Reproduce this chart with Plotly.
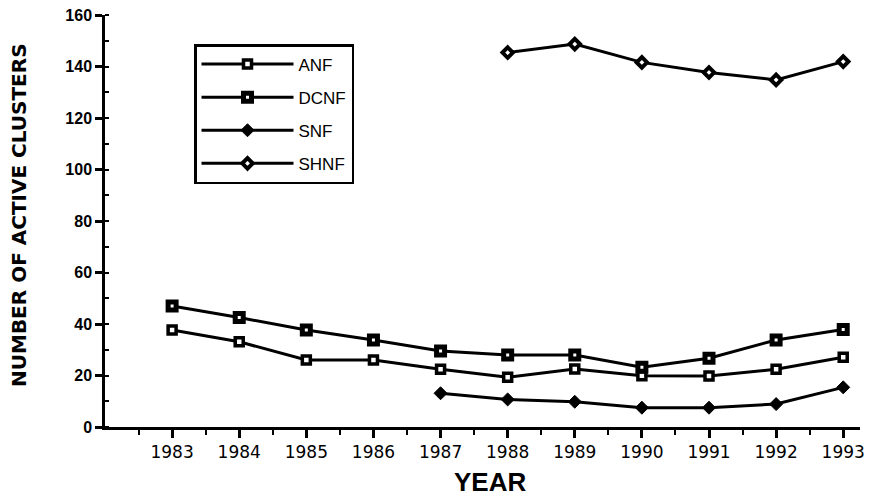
import plotly.graph_objects as go

years = [1983, 1984, 1985, 1986, 1987, 1988, 1989, 1990, 1991, 1992, 1993]
anf = [37.7, 33.1, 26.0, 26.0, 22.4, 19.3, 22.5, 19.9, 19.8, 22.4, 27.1]
dcnf = [47.0, 42.5, 37.7, 33.8, 29.5, 28.0, 28.0, 23.2, 26.7, 33.8, 37.9]
snf_years = [1987, 1988, 1989, 1990, 1991, 1992, 1993]
snf = [13.1, 10.7, 9.8, 7.5, 7.5, 8.9, 15.4]
shnf_years = [1988, 1989, 1990, 1991, 1992, 1993]
shnf = [145.4, 148.7, 141.6, 137.7, 134.8, 141.9]

FONT = "Liberation Sans, Arial, sans-serif"
WIDE = "DejaVu Sans, sans-serif"

# the page body has an 8px default margin, so the figure is drawn at (8, 8)
OFF = 8
W, H = 873 - OFF, 503 - OFF
PX0, PX1, PY0, PY1 = 105, 860, 15, 427   # plot area in page pixels


def px(x):
    return (x - PX0) / (PX1 - PX0)


def py(y):
    return (PY1 - y) / (PY1 - PY0)


fig = go.Figure()
line = dict(color="black", width=3)
fig.add_trace(go.Scatter(x=years, y=anf, name="ANF", mode="lines+markers", line=line,
                         legendgroup="a",
                         marker=dict(symbol="square", size=8, color="white",
                                     line=dict(color="black", width=3.5))))
fig.add_trace(go.Scatter(x=years, y=dcnf, name="DCNF", mode="lines+markers", line=line,
                         legendgroup="b",
                         marker=dict(symbol="square", size=8, color="white",
                                     line=dict(color="black", width=5))))
fig.add_trace(go.Scatter(x=snf_years, y=snf, name="SNF", mode="lines+markers", line=line,
                         legendgroup="c",
                         marker=dict(symbol="diamond", size=10, color="black",
                                     line=dict(color="black", width=1))))
fig.add_trace(go.Scatter(x=shnf_years, y=shnf, name="SHNF", mode="lines+markers", line=line,
                         legendgroup="d",
                         marker=dict(symbol="diamond", size=8, color="white",
                                     line=dict(color="black", width=4))))

fig.update_layout(
    width=W, height=H,
    margin=dict(l=PX0 - OFF, r=W - (PX1 - OFF), t=PY0 - OFF, b=H - (PY1 - OFF)),
    paper_bgcolor="white", plot_bgcolor="white",
    font=dict(family=FONT, color="black"),
    showlegend=True,
    legend=dict(x=px(194), y=py(44), xanchor="left", yanchor="top",
                bordercolor="black", borderwidth=2.5, bgcolor="white",
                font=dict(size=17, family=FONT, color="black"),
                traceorder="grouped", tracegroupgap=8,
                itemwidth=92),
    xaxis=dict(range=[1982, 1993.25], showgrid=False, zeroline=False, automargin=False,
               showline=True, linecolor="black", linewidth=2.5,
               tickmode="array", tickvals=years, ticktext=[str(y) for y in years],
               ticks="outside", ticklen=8, tickwidth=2.5, tickcolor="black",
               ticklabeloverflow="allow",
               minor=dict(tickvals=[y - 0.5 for y in years],
                          ticks="outside", ticklen=5, tickwidth=2, tickcolor="black"),
               tickfont=dict(size=17, family=WIDE, color="black")),
    yaxis=dict(range=[0, 160], showgrid=False, zeroline=False, automargin=False,
               showline=True, linecolor="black", linewidth=2.5,
               tickmode="linear", tick0=0, dtick=20,
               ticks="outside", ticklen=7, tickwidth=2.5, tickcolor="black",
               ticklabeloverflow="allow",
               minor=dict(dtick=10, ticks="inside", ticklen=4, tickwidth=2, tickcolor="black"),
               tickfont=dict(size=16, family=FONT, color="black", weight="bold")),
    annotations=[
        dict(text="<b>YEAR</b>", xref="paper", yref="paper",
             x=px(490), y=py(482), xanchor="center", yanchor="middle",
             showarrow=False, font=dict(size=26, family=FONT, color="black")),
        dict(text="<b>NUMBER OF ACTIVE CLUSTERS</b>", xref="paper", yref="paper",
             x=px(19), y=py(215), xanchor="center", yanchor="middle",
             textangle=-90, showarrow=False,
             font=dict(size=20, family=WIDE, color="black")),
    ],
)

fig.write_html("out.html")
